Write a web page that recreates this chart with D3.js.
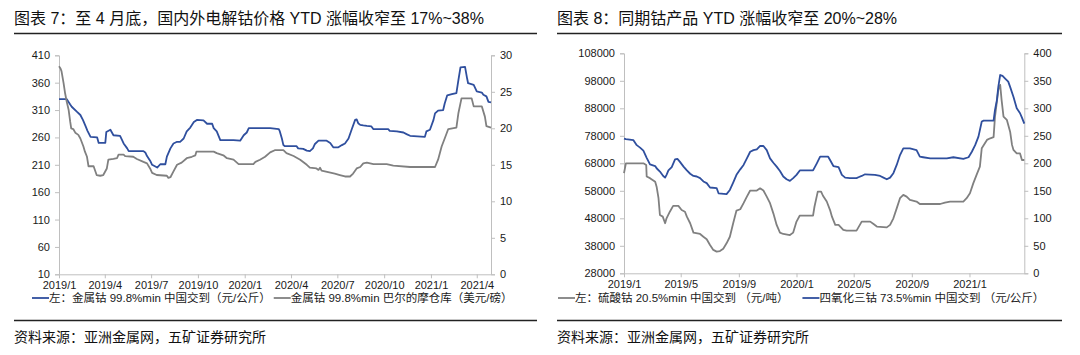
<!DOCTYPE html>
<html><head><meta charset="utf-8">
<script src="https://cdn.jsdelivr.net/npm/d3@7"></script>
<style>
body{margin:0;background:#fff;}
text{font-family:"Liberation Sans","Noto Sans CJK SC",sans-serif;}
</style></head>
<body><svg id="c" width="1080" height="355"></svg>
<script>
// ---------- Chart 7 data ----------
const c7Title = "图表 7：至 4 月底，国内外电解钴价格 YTD 涨幅收窄至 17%~38%";
const c7Legend = ["左：金属钴 99.8%min 中国交到（元/公斤）", "金属钴 99.8%min 巴尔的摩仓库（美元/磅）"];
const c7LeftTicks = [10,60,110,160,210,260,310,360,410];
const c7RightTicks = [0,5,10,15,20,25,30];
const c7XTicks = ["2019-01-01","2019-04-01","2019-07-01","2019-10-01","2020-01-01","2020-04-01","2020-07-01","2020-10-01","2021-01-01","2021-04-01"];
const c7Domain = ["2019-01-01","2021-04-29"];
const cnCobaltDates = ["2019-01-01","2019-01-16","2019-01-23","2019-01-26","2019-02-05","2019-02-12","2019-02-17","2019-02-22","2019-02-26","2019-03-04","2019-03-17","2019-03-20","2019-04-02","2019-04-04","2019-04-12","2019-04-18","2019-05-01","2019-05-05","2019-05-08","2019-05-15","2019-05-18","2019-06-16","2019-06-20","2019-06-23","2019-06-30","2019-07-03","2019-07-13","2019-07-19","2019-07-29","2019-08-01","2019-08-08","2019-08-14","2019-08-21","2019-08-27","2019-09-03","2019-09-09","2019-09-16","2019-09-23","2019-09-29","2019-10-12","2019-10-19","2019-10-29","2019-11-01","2019-11-07","2019-11-14","2019-12-10","2019-12-23","2019-12-30","2020-01-05","2020-01-09","2020-02-20","2020-03-08","2020-03-10","2020-03-14","2020-03-17","2020-03-20","2020-04-12","2020-04-15","2020-04-25","2020-05-02","2020-05-08","2020-05-14","2020-05-18","2020-05-25","2020-06-10","2020-06-17","2020-06-23","2020-07-03","2020-07-10","2020-07-16","2020-07-23","2020-07-29","2020-08-05","2020-08-08","2020-08-11","2020-08-15","2020-08-21","2020-08-28","2020-09-06","2020-09-10","2020-10-09","2020-10-12","2020-10-26","2020-11-08","2020-11-14","2020-11-21","2020-12-20","2020-12-23","2020-12-30","2021-01-06","2021-01-09","2021-01-15","2021-01-25","2021-01-28","2021-02-02","2021-02-11","2021-02-20","2021-02-24","2021-02-28","2021-03-09","2021-03-13","2021-03-15","2021-03-26","2021-04-01","2021-04-11","2021-04-14","2021-04-20","2021-04-24","2021-04-29"];
const cnCobaltValues = [330,330,320,316,307,301,292,281,272,261,260,250,250,270,274,264,263,255,249,240,235,235,232,226,216,210,205,211,211,225,240,249,252,252,258,271,278,288,292,291,285,285,277,271,255,255,254,264,269,277,277,275,271,258,246,244,244,240,239,236,235,240,248,254,254,250,242,242,246,249,258,274,292,293,286,283,282,281,280,275,275,272,271,269,266,263,261,271,274,292,304,309,310,322,337,339,341,365,388,389,368,359,356,344,342,338,335,325,324];
const usCobaltDates = ["2019-01-01","2019-01-04","2019-01-06","2019-01-10","2019-01-13","2019-01-16","2019-01-20","2019-01-23","2019-01-25","2019-01-29","2019-02-02","2019-02-08","2019-02-12","2019-02-18","2019-02-21","2019-02-25","2019-02-28","2019-03-10","2019-03-16","2019-03-23","2019-03-29","2019-04-05","2019-04-08","2019-04-18","2019-04-25","2019-04-28","2019-05-08","2019-05-11","2019-05-27","2019-06-03","2019-06-16","2019-06-23","2019-06-29","2019-07-03","2019-07-12","2019-08-01","2019-08-04","2019-08-08","2019-08-14","2019-08-21","2019-08-30","2019-09-09","2019-09-19","2019-09-26","2019-09-28","2019-11-01","2019-11-07","2019-11-20","2019-11-27","2019-12-10","2019-12-20","2020-01-18","2020-01-22","2020-01-31","2020-02-10","2020-02-20","2020-02-29","2020-03-17","2020-03-23","2020-04-06","2020-04-19","2020-05-02","2020-05-08","2020-05-21","2020-05-25","2020-05-28","2020-05-31","2020-06-13","2020-06-26","2020-07-06","2020-07-16","2020-07-26","2020-08-01","2020-08-08","2020-08-15","2020-08-21","2020-08-28","2020-09-10","2020-10-06","2020-10-19","2020-11-21","2021-01-09","2021-01-15","2021-01-22","2021-01-28","2021-02-04","2021-02-20","2021-02-24","2021-03-02","2021-03-22","2021-03-26","2021-04-11","2021-04-17","2021-04-20","2021-04-29"];
const usCobaltValues = [28.5,28.2,27.8,26.2,24.8,23.7,22.5,20.9,20.0,19.9,19.4,19.1,18.6,17.5,16.8,16.1,14.8,14.8,13.6,13.5,13.6,14.5,15.7,15.8,15.9,16.4,16.4,16.2,16.1,15.8,15.4,15.2,14.5,13.9,13.6,13.5,13.2,13.3,14.1,15.0,15.3,15.9,16.1,16.3,16.8,16.8,16.6,16.3,15.9,15.7,15.1,15.1,15.4,15.7,16.1,16.7,17.0,17.0,16.6,16.2,15.7,15.0,14.6,14.5,14.3,14.6,14.2,14.0,13.8,13.6,13.4,13.4,13.8,14.5,14.7,15.2,15.3,15.1,15.1,14.9,14.7,14.7,15.7,17.5,18.6,19.9,20.1,22.1,24.1,24.1,23.0,23.0,21.6,20.3,20.1];

// ---------- Chart 8 data ----------
const c8Title = "图表 8：同期钴产品 YTD 涨幅收窄至 20%~28%";
const c8Legend = ["左：硫酸钴 20.5%min 中国交到 （元/吨）", "四氧化三钴 73.5%min 中国交到 （元/公斤）"];
const c8LeftTicks = [28000,38000,48000,58000,68000,78000,88000,98000,108000];
const c8RightTicks = [0,50,100,150,200,250,300,350,400];
const c8XTicks = ["2019-01-01","2019-05-01","2019-09-01","2020-01-01","2020-05-01","2020-09-01","2021-01-01"];
const c8Domain = ["2019-01-01","2021-04-27"];
const sulfateDates = ["2019-01-01","2019-01-05","2019-02-11","2019-02-17","2019-02-18","2019-02-25","2019-03-08","2019-03-11","2019-03-15","2019-03-18","2019-03-24","2019-03-29","2019-04-01","2019-04-08","2019-04-15","2019-04-26","2019-05-03","2019-05-10","2019-05-14","2019-05-21","2019-05-28","2019-06-11","2019-06-18","2019-06-25","2019-07-02","2019-07-09","2019-07-16","2019-07-23","2019-07-30","2019-08-06","2019-08-13","2019-08-20","2019-08-27","2019-09-04","2019-09-11","2019-09-18","2019-09-25","2019-10-09","2019-10-16","2019-10-23","2019-10-30","2019-11-06","2019-11-13","2019-11-20","2019-11-27","2019-12-04","2019-12-18","2019-12-25","2020-01-01","2020-01-08","2020-02-05","2020-02-08","2020-02-15","2020-02-22","2020-02-26","2020-03-05","2020-03-12","2020-03-16","2020-03-23","2020-03-30","2020-04-09","2020-04-16","2020-05-07","2020-05-11","2020-05-18","2020-06-05","2020-06-12","2020-06-19","2020-07-10","2020-07-17","2020-07-24","2020-07-31","2020-08-07","2020-08-14","2020-08-21","2020-08-28","2020-09-11","2020-09-18","2020-10-31","2020-11-10","2020-11-21","2020-12-19","2020-12-26","2021-01-02","2021-01-09","2021-01-16","2021-01-23","2021-01-27","2021-02-07","2021-02-14","2021-02-21","2021-02-24","2021-02-28","2021-03-03","2021-03-07","2021-03-10","2021-03-14","2021-03-21","2021-03-28","2021-04-01","2021-04-04","2021-04-11","2021-04-18","2021-04-22","2021-04-27"];
const sulfateValues = [64400,68000,68000,67400,63200,62600,61300,59500,55300,49200,48600,46200,48000,50400,52500,52500,51000,50400,48600,46200,42800,42300,41300,40400,38300,36500,35900,36100,36900,38900,41300,46200,50800,51300,53500,55900,58100,58100,58900,58100,55900,53500,49800,45600,42800,42300,41900,42800,46800,49000,49000,52200,57700,57700,56200,54100,51000,48600,45600,45600,43800,43500,43500,44700,46800,46800,45900,45000,44700,45600,48000,51600,55300,56500,55900,54700,54100,53200,53200,53700,54100,54100,55300,57100,60700,63800,66800,73500,76500,77100,77500,85000,90400,94700,96500,91000,85000,83800,79500,74700,72900,71600,71600,69200,69200];
const oxideDates = ["2019-01-01","2019-01-05","2019-01-21","2019-01-28","2019-02-04","2019-02-11","2019-02-18","2019-02-25","2019-03-08","2019-03-11","2019-03-18","2019-03-25","2019-03-29","2019-04-01","2019-04-05","2019-04-12","2019-04-19","2019-04-24","2019-04-29","2019-05-07","2019-05-14","2019-05-21","2019-05-28","2019-06-04","2019-06-11","2019-06-18","2019-06-25","2019-07-02","2019-07-16","2019-07-20","2019-08-06","2019-08-13","2019-08-20","2019-08-27","2019-09-04","2019-09-11","2019-09-18","2019-09-25","2019-10-02","2019-10-09","2019-10-16","2019-10-23","2019-10-30","2019-11-06","2019-11-13","2019-11-20","2019-11-27","2019-12-04","2019-12-11","2019-12-18","2019-12-25","2020-01-01","2020-01-08","2020-02-05","2020-02-13","2020-02-20","2020-03-08","2020-03-12","2020-03-19","2020-03-30","2020-04-06","2020-04-13","2020-04-23","2020-05-07","2020-05-11","2020-05-18","2020-05-25","2020-06-15","2020-06-26","2020-07-03","2020-07-10","2020-07-17","2020-07-24","2020-07-31","2020-08-07","2020-08-14","2020-08-28","2020-09-11","2020-09-18","2020-09-25","2020-10-10","2020-11-14","2020-11-28","2020-12-19","2020-12-30","2021-01-06","2021-01-13","2021-01-20","2021-01-27","2021-01-31","2021-02-21","2021-02-24","2021-02-28","2021-03-03","2021-03-07","2021-03-12","2021-03-17","2021-03-24","2021-03-28","2021-04-04","2021-04-11","2021-04-18","2021-04-22","2021-04-27"];
const oxideValues = [245,244,242,233,228.5,223,210,198,195,191,185,177,174,179,187,193,207,208,203,194,187,181,177,176,173,167,164,156,155,145.5,144,151.5,165,179,189,197,209,221,224,225.5,231.5,231.5,224,209,201,194,186,176,171,168,173,179,187,187,200,212,212,206,195,193,179,174,173,173,174.6,177,180,179,177,174,171,174,182,197,215,227,227,224,212,211,209,209,211,208,211,221,233,248.5,276,277.6,277.6,297,315,339,360.6,359,354.6,348.5,339,321,300,291,283,272];

const SOURCE = "资料来源：亚洲金属网，五矿证券研究所";
const BLUE = "#2f4f9e", GRAY = "#808080", AXIS = "#bfbfbf";
const parse = d3.timeParse("%Y-%m-%d");
const svg = d3.select("#c");

function drawChart(o){
  const g = svg.append("g");
  // title + rules
  g.append("text").attr("x",o.left).attr("y",24).attr("font-size",16).attr("fill","#111").text(o.title);
  g.append("line").attr("x1",o.left).attr("x2",o.right).attr("y1",33.5).attr("y2",33.5).attr("stroke","#222").attr("stroke-width",1.5);
  g.append("line").attr("x1",o.left).attr("x2",o.right).attr("y1",320.5).attr("y2",320.5).attr("stroke","#222").attr("stroke-width",1.5);
  g.append("text").attr("x",o.left).attr("y",342).attr("font-size",14).attr("fill","#111").text(SOURCE);

  const x = d3.scaleTime().domain(o.domain.map(parse)).range([o.x0,o.x1]);
  const yL = d3.scaleLinear().domain(d3.extent(o.leftTicks)).range([o.yB,o.yT]);
  const yR = d3.scaleLinear().domain(d3.extent(o.rightTicks)).range([o.yB,o.yT]);

  const styleAxis = sel => {
    sel.selectAll("path,line").attr("stroke",AXIS);
    sel.selectAll("text").attr("font-size",11).attr("fill","#1a1a1a").attr("font-family","Liberation Sans, Arial, sans-serif");
  };
  g.append("g").attr("transform",`translate(${o.x0},0)`)
    .call(d3.axisLeft(yL).tickValues(o.leftTicks).tickSize(4).tickPadding(5).tickFormat(d3.format("d")))
    .call(styleAxis);
  g.append("g").attr("transform",`translate(${o.x1},0)`)
    .call(d3.axisRight(yR).tickValues(o.rightTicks).tickSize(4).tickPadding(5).tickFormat(d3.format("d")))
    .call(styleAxis);
  g.append("g").attr("transform",`translate(0,${o.yB})`)
    .call(d3.axisBottom(x).tickValues(o.xTicks.map(parse)).tickSizeInner(4).tickSizeOuter(0).tickPadding(3).tickFormat(d3.timeFormat("%Y/%-m")))
    .call(styleAxis);

  o.series.forEach(s => {
    const sc = s.axis === "L" ? yL : yR;
    const pts = s.dates.map((d,i)=>[parse(d), s.values[i]]);
    g.append("path").datum(pts)
      .attr("fill","none").attr("stroke",s.color).attr("stroke-width",1.8).attr("stroke-linejoin","round")
      .attr("d", d3.line().x(p=>x(p[0])).y(p=>sc(p[1])));
  });

  // legend
  let cx = o.legendX;
  o.legend.forEach((it,i) => {
    g.append("line").attr("x1",cx).attr("x2",cx+17).attr("y1",o.legendY-4).attr("y2",o.legendY-4)
      .attr("stroke",it.color).attr("stroke-width",1.8);
    const t = g.append("text").attr("x",cx+17).attr("y",o.legendY).attr("font-size",11.5).attr("fill","#1a1a1a").text(it.label);
    cx += 17 + t.node().getComputedTextLength() + o.legendGap;
  });
}

drawChart({
  title:c7Title, left:14, right:537, x0:59, x1:491, yT:55.3, yB:274.3,
  domain:c7Domain, leftTicks:c7LeftTicks, rightTicks:c7RightTicks, xTicks:c7XTicks,
  series:[
    {dates:cnCobaltDates, values:cnCobaltValues, axis:"L", color:BLUE},
    {dates:usCobaltDates, values:usCobaltValues, axis:"R", color:GRAY}
  ],
  legend:[{label:c7Legend[0],color:BLUE},{label:c7Legend[1],color:GRAY}],
  legendX:32, legendY:302, legendGap:3
});
drawChart({
  title:c8Title, left:557, right:1062, x0:624, x1:1024.3, yT:53.3, yB:273.3,
  domain:c8Domain, leftTicks:c8LeftTicks, rightTicks:c8RightTicks, xTicks:c8XTicks,
  series:[
    {dates:sulfateDates, values:sulfateValues, axis:"L", color:GRAY},
    {dates:oxideDates, values:oxideValues, axis:"R", color:BLUE}
  ],
  legend:[{label:c8Legend[0],color:GRAY},{label:c8Legend[1],color:BLUE}],
  legendX:558, legendY:302, legendGap:14
});
</script></body></html>
